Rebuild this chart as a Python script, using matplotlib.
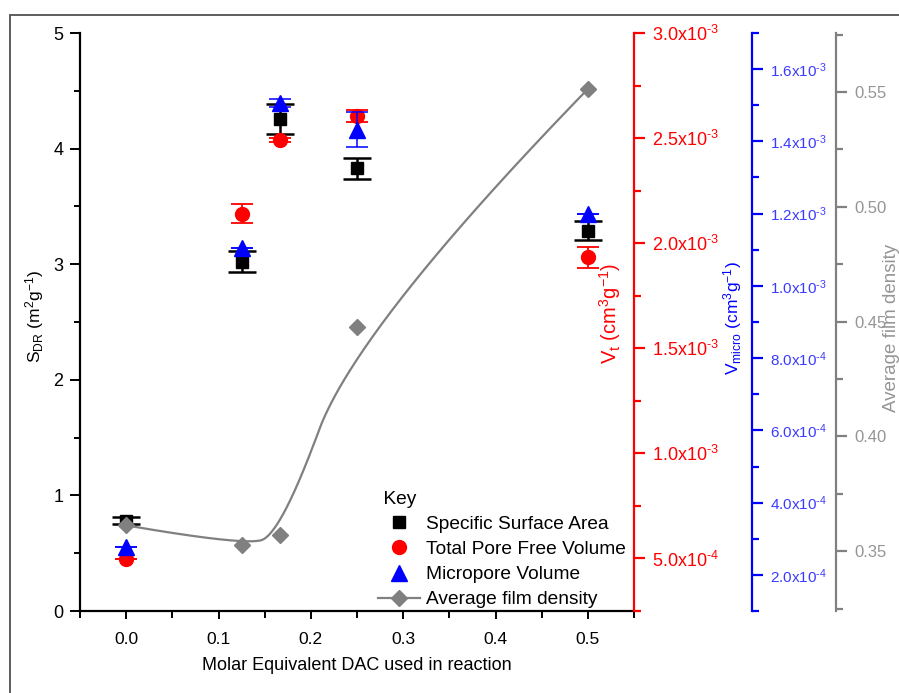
import numpy as np
import matplotlib
matplotlib.use('Agg')
import matplotlib.pyplot as plt
from matplotlib.ticker import MultipleLocator, FuncFormatter, FormatStrFormatter
from matplotlib.lines import Line2D
from matplotlib.patches import Rectangle

plt.rcParams['font.family'] = ['Liberation Sans', 'DejaVu Sans']
plt.rcParams['mathtext.fontset'] = 'custom'
plt.rcParams['mathtext.rm'] = 'Liberation Sans'
plt.rcParams['mathtext.it'] = 'Liberation Sans'
plt.rcParams['mathtext.bf'] = 'Liberation Sans:bold'
plt.rcParams['mathtext.default'] = 'regular'

# ---------------- data ----------------
dac = [0.0, 0.125, 0.167, 0.25, 0.5]
ssa = [0.78, 3.02, 4.26, 3.83, 3.29]
ssa_err = [0.03, 0.09, 0.13, 0.09, 0.08]
vt = [0.497e-3, 2.14e-3, 2.49e-3, 2.606e-3, 1.932e-3]
vt_err = [0.0, 0.045e-3, 0.01e-3, 0.03e-3, 0.048e-3]
vmicro = [0.277e-3, 1.106e-3, 1.506e-3, 1.432e-3, 1.2e-3]
vmicro_err = [0.0, 0.0, 0.01e-3, 0.048e-3, 0.0]
density = [0.3613, 0.3526, 0.357, 0.4478, 0.5513]
legend_labels = ['Specific Surface Area', 'Total Pore Free Volume',
                 'Micropore Volume', 'Average film density']

W, H = 899, 693


def bspline(cx, cy, n=300, k=2):
    P = np.column_stack([cx, cy])
    m = len(P)
    inner = np.linspace(0, 1, m - k + 1)[1:-1]
    t = np.concatenate([np.zeros(k + 1), inner, np.ones(k + 1)])
    u = np.linspace(0, 1, n)

    def N(i, p):
        if p == 0:
            res = ((t[i] <= u) & (u < t[i + 1])).astype(float)
            if t[i + 1] == 1.0 and t[i] < 1.0:
                res[u == 1.0] = 1.0
            return res
        a = 0 if t[i + p] == t[i] else (u - t[i]) / (t[i + p] - t[i])
        b = 0 if t[i + p + 1] == t[i + 1] else (t[i + p + 1] - u) / (t[i + p + 1] - t[i + 1])
        return a * N(i, p - 1) + b * N(i + 1, p - 1)

    B = np.array([N(i, k) for i in range(m)])
    C = B.T @ P
    return C[:, 0], C[:, 1]


def sci(v, pos):
    if v <= 0:
        return ''
    e = int(np.floor(np.log10(abs(v)) + 1e-9))
    m = v / 10 ** e
    return f'{m:.1f}x10$^{{\u2010{abs(e)}}}$'


fig = plt.figure(figsize=(W / 100, H / 100), dpi=100)
ax = fig.add_axes([80 / W, 1 - 611 / H, 554 / W, 578 / H])
ax.set_xlim(-0.05, 0.55)
ax.set_ylim(0, 5)
for s in ['top', 'right']:
    ax.spines[s].set_visible(False)
for s in ['left', 'bottom']:
    ax.spines[s].set_linewidth(1.6)
ax.xaxis.set_major_locator(MultipleLocator(0.1))
ax.xaxis.set_minor_locator(MultipleLocator(0.05))
ax.xaxis.set_major_formatter(FormatStrFormatter('%.1f'))
ax.yaxis.set_major_locator(MultipleLocator(1))
ax.yaxis.set_minor_locator(MultipleLocator(0.5))
ax.tick_params(axis='x', which='major', direction='out', length=6, width=1.4, labelsize=12.5, pad=9)
ax.tick_params(axis='x', which='minor', direction='out', length=5, width=1.4)
ax.tick_params(axis='y', which='major', direction='out', length=7, width=1.4, labelsize=13, pad=5)
ax.tick_params(axis='y', which='minor', direction='out', length=4, width=1.4)

# red axis
ax_r = ax.twinx()
ax_r.set_ylim(0.25e-3, 3.0e-3)
# blue axis
ax_b = ax.twinx()
ax_b.set_ylim(1e-4, 1.7e-3)
ax_b.spines['right'].set_position(('axes', (752 - 80) / 554))
# gray axis
ax_g = ax.twinx()
ax_g.set_ylim(0.324, 0.5757)
ax_g.spines['right'].set_position(('axes', (836 - 80) / 554))

for a, col, lcol, fs, maj, mnr, fmt in [
        (ax_r, 'red', 'red', 13, 0.5e-3, 0.25e-3, FuncFormatter(sci)),
        (ax_b, 'blue', '#3a3aff', 11, 2e-4, 1e-4, FuncFormatter(sci)),
        (ax_g, '#808080', '#959595', 12, 0.05, 0.025, FormatStrFormatter('%.2f'))]:
    for s in ['left', 'top', 'bottom']:
        a.spines[s].set_visible(False)
    a.spines['right'].set_color(col)
    a.spines['right'].set_linewidth(1.6)
    a.yaxis.set_major_locator(MultipleLocator(maj))
    a.yaxis.set_minor_locator(MultipleLocator(mnr))
    a.yaxis.set_major_formatter(fmt)
    a.tick_params(axis='y', which='major', direction='out', length=8, width=1.6,
                  color=col, labelcolor=lcol, labelsize=fs, pad=5)
    a.tick_params(axis='y', which='minor', direction='out', length=5, width=1.6, color=col)

# data
ax.errorbar(dac, ssa, yerr=ssa_err, fmt='s', color='black', ms=9, capsize=10,
            elinewidth=1.8, capthick=1.8)
ax_r.errorbar(dac, vt, yerr=vt_err, fmt='o', color='red', ms=10, capsize=8,
              elinewidth=1.3, capthick=1.3)
ax_b.errorbar(dac, vmicro, yerr=vmicro_err, fmt='^', color='blue', ms=11, capsize=8,
              elinewidth=1.1, capthick=1.1)
sx, sy = bspline(dac, density)
ax_g.plot(sx, sy, color='#808080', lw=1.6)
ax_g.plot(dac, density, 'D', color='#808080', ms=8.5, ls='none')

# labels
fig.text(357 / W, 1 - 666 / H, 'Molar Equivalent DAC used in reaction', fontsize=13,
         ha='center', va='center')
fig.text(35 / W, 1 - 316 / H, r'$S_{DR}$ $(m^2g^{-1})$', fontsize=12.5, rotation=90,
         ha='center', va='center')
fig.text(610 / W, 1 - 313 / H, r'$V_t$ $(cm^3g^{-1})$', fontsize=14.5, rotation=90,
         ha='center', va='center', color='red')
fig.text(733 / W, 1 - 318 / H, r'$V_{micro}$ $(cm^3g^{-1})$', fontsize=12.5, rotation=90,
         ha='center', va='center', color='blue')
fig.text(892 / W, 1 - 328 / H, 'Average film density', fontsize=13.5, rotation=90,
         ha='center', va='center', color='#959595')

# legend
handles = [Line2D([], [], ls='none', marker='s', color='black', ms=9),
           Line2D([], [], ls='none', marker='o', color='red', ms=10),
           Line2D([], [], ls='none', marker='^', color='blue', ms=11),
           Line2D([], [], color='#808080', lw=1.6, marker='D', ms=8.5)]
leg = ax_g.legend(handles, legend_labels, title=' Key', loc='upper left',
                  bbox_to_anchor=(378 / W, 1 - 491 / H), bbox_transform=fig.transFigure,
                  frameon=False, fontsize=13.8, title_fontsize=13.8, alignment='left',
                  handlelength=2.2, handletextpad=0.3, labelspacing=0.4,
                  borderpad=0, borderaxespad=0)

# outer frame
fig.add_artist(Rectangle((10 / W, -0.1), 2, 1.1 - 15 / H, transform=fig.transFigure,
                         fill=False, edgecolor='#505050', lw=1.3))

fig.savefig('out.png', dpi=100)
